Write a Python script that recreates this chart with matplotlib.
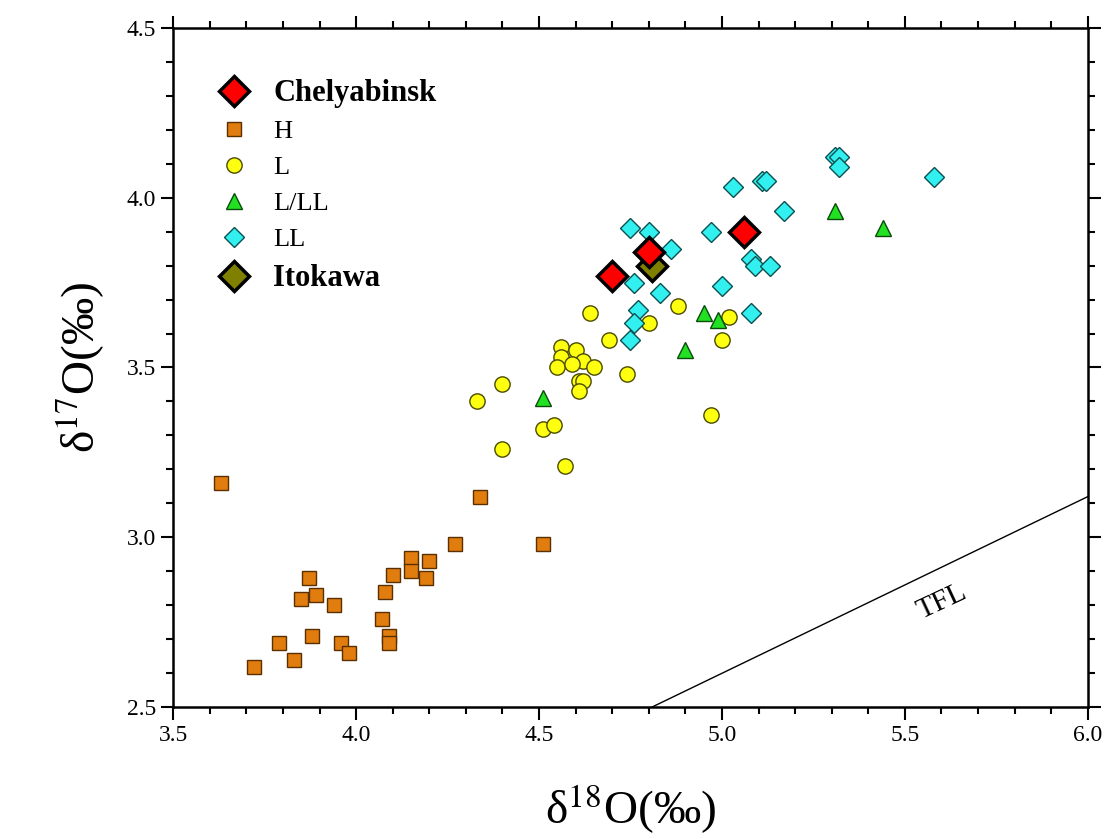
import matplotlib
matplotlib.use("Agg")
import matplotlib.pyplot as plt
from matplotlib.ticker import MultipleLocator

# data (delta18O, delta17O, per mil)
h_x = [3.63, 4.34, 4.27, 4.51, 4.15, 4.20, 4.15, 4.19, 4.10, 4.08, 3.87, 3.85,
       3.89, 3.94, 4.07, 4.09, 4.09, 3.79, 3.88, 3.96, 3.98, 3.83, 3.72]
h_y = [3.16, 3.12, 2.98, 2.98, 2.94, 2.93, 2.90, 2.88, 2.89, 2.84, 2.88, 2.82,
       2.83, 2.80, 2.76, 2.71, 2.69, 2.69, 2.71, 2.69, 2.66, 2.64, 2.62]

l_x = [4.64, 4.69, 4.80, 4.88, 5.02, 5.00, 4.97, 4.74, 4.56, 4.60, 4.56, 4.62,
       4.55, 4.59, 4.65, 4.61, 4.62, 4.61, 4.40, 4.33, 4.51, 4.54, 4.40, 4.57]
l_y = [3.66, 3.58, 3.63, 3.68, 3.65, 3.58, 3.36, 3.48, 3.56, 3.55, 3.53, 3.52,
       3.50, 3.51, 3.50, 3.46, 3.46, 3.43, 3.45, 3.40, 3.32, 3.33, 3.26, 3.21]

lll_x = [4.51, 4.90, 4.95, 4.99, 5.31, 5.44]
lll_y = [3.41, 3.55, 3.66, 3.64, 3.96, 3.91]

ll_x = [4.76, 4.83, 4.77, 4.76, 4.75, 5.00, 4.75, 4.80, 4.86, 5.03, 5.11,
        5.12, 5.17, 4.97, 5.08, 5.09, 5.13, 5.08, 5.31, 5.32, 5.32, 5.58]
ll_y = [3.75, 3.72, 3.67, 3.63, 3.58, 3.74, 3.91, 3.90, 3.85, 4.03, 4.05,
        4.05, 3.96, 3.90, 3.82, 3.80, 3.80, 3.66, 4.12, 4.12, 4.09, 4.06]

chel_x = [4.70, 4.80, 5.06]
chel_y = [3.77, 3.84, 3.90]

ito_x = [4.81]
ito_y = [3.80]

# terrestrial fractionation line
tfl_x = [4.8, 6.0]
tfl_y = [2.496, 3.12]

plt.rcParams["font.family"] = ["Liberation Serif", "DejaVu Serif"]
plt.rcParams["mathtext.fontset"] = "stix"

fig = plt.figure(figsize=(11.1, 8.39), dpi=100)
ax = fig.add_axes([0.156, 0.157, 0.824, 0.81])

ax.plot(tfl_x, tfl_y, color="black", lw=1.0, zorder=1)
ax.text(5.60, 2.81, "TFL", rotation=25, fontsize=21, ha="center", va="center")

ax.plot(h_x, h_y, "s", ms=10, mfc="#e07d0e", mec="#5a3000", mew=1.0,
        ls="none", label="H", zorder=3)
ax.plot(l_x, l_y, "o", ms=11, mfc="#ffff10", mec="#4a4a00", mew=1.0,
        ls="none", label="L", zorder=3)
ax.plot(lll_x, lll_y, "^", ms=12, mfc="#22e022", mec="#0a4a0a", mew=1.0,
        ls="none", label="L/LL", zorder=4)
ax.plot(ll_x, ll_y, "D", ms=10, mfc="#33f0f0", mec="#0a5050", mew=1.0,
        ls="none", label="LL", zorder=4)
ax.plot(ito_x, ito_y, "D", ms=15, mfc="#7f7f00", mec="black", mew=2.5,
        ls="none", label="Itokawa", zorder=5)
ax.plot(chel_x, chel_y, "D", ms=15, mfc="#ff0000", mec="black", mew=2.5,
        ls="none", label="Chelyabinsk", zorder=6)

handles, labels = ax.get_legend_handles_labels()
order = [5, 0, 1, 2, 3, 4]
leg = ax.legend([handles[i] for i in order], [labels[i] for i in order],
                loc="upper left", bbox_to_anchor=(0.02, 0.96), frameon=False,
                fontsize=19, handletextpad=0.8, labelspacing=0.47,
                handlelength=1.4, numpoints=1)
for t in leg.get_texts():
    if t.get_text() in ("Chelyabinsk", "Itokawa"):
        t.set_fontweight("bold")
        t.set_fontsize(22)

ax.set_xlim(3.5, 6.0)
ax.set_ylim(2.5, 4.5)
ax.xaxis.set_major_locator(MultipleLocator(0.5))
ax.xaxis.set_minor_locator(MultipleLocator(0.1))
ax.yaxis.set_major_locator(MultipleLocator(0.5))
ax.yaxis.set_minor_locator(MultipleLocator(0.1))
ax.xaxis.set_major_formatter(plt.FormatStrFormatter("%.1f"))
ax.yaxis.set_major_formatter(plt.FormatStrFormatter("%.1f"))

ax.tick_params(which="both", direction="out", top=True, right=True, width=1.5)
ax.tick_params(which="major", length=9, labelsize=17)
ax.tick_params(which="minor", length=5)
for s in ax.spines.values():
    s.set_linewidth(1.8)

ax.set_xlabel("δ$^{18}$O(‰)", fontsize=34, labelpad=26)
ax.set_ylabel("δ$^{17}$O(‰)", fontsize=34, labelpad=14)

fig.savefig("out.png", dpi=100)
